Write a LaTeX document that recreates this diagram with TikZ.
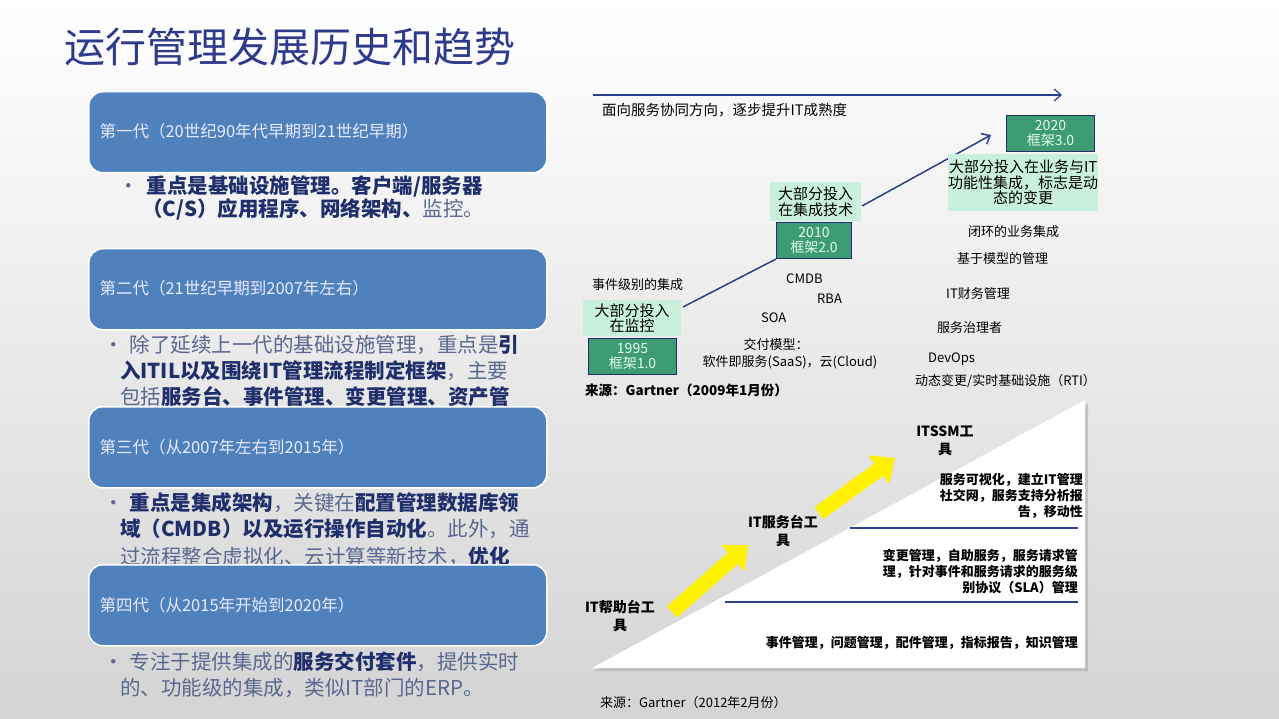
\documentclass[tikz,border=0pt]{standalone}
\usepackage{fontspec}
\setmainfont{Noto Sans CJK SC}
\usetikzlibrary{arrows.meta,shadows}
\definecolor{titleblue}{HTML}{2E3A8C}
\definecolor{genblue}{HTML}{4F81BD}
\definecolor{navy}{HTML}{1F2F6B}
\definecolor{soft}{HTML}{5A6790}
\definecolor{dgreen}{HTML}{3E9C74}
\definecolor{lgreen}{HTML}{C8F0DC}
\definecolor{linenavy}{HTML}{2B3F8C}
\newcommand{\bb}[1]{{\bfseries\color{navy}#1}}
\begin{document}
\begin{tikzpicture}[x=1pt,y=-1pt,
  gen/.style={draw=white,line width=1.5,fill=genblue,rounded corners=14,minimum width=458,minimum height=81,anchor=north west,inner sep=0},
  gentxt/.style={anchor=west,text=white!92!blue,font=\fontsize{16.5}{18}\selectfont},
  bl/.style={anchor=west,text=soft,font=\fontsize{20.5}{22}\selectfont,inner sep=0},
  yearbox/.style={draw=navy,line width=1,fill=dgreen,text=white!90!green,align=center,font=\fontsize{14}{15}\selectfont,inner sep=0,anchor=north west},
  lbox/.style={fill=lgreen,align=center,font=\fontsize{15}{15.5}\selectfont,inner sep=0,anchor=north west},
  sm/.style={font=\fontsize{13}{14}\selectfont,inner sep=0},
  bk/.style={font=\fontsize{13}{16}\selectfont\bfseries,inner sep=0},
  yarr/.style={line width=15,yellow,-{Triangle[width=34,length=20]}}]
\useasboundingbox (0,0) rectangle (1279,719);
\shade[top color=white,bottom color=black!17] (0,0) rectangle (1279,719);
\node[anchor=west,text=titleblue,font=\fontsize{41}{44}\selectfont,inner sep=0] (title) at (64,47) {运行管理发展历史和趋势};
% left column
\node[bl] (b1a) at (118,186) {•\hspace{8pt}\bb{重点是基础设施管理。客户端/服务器}};
\node[bl] (b1b) at (142,209) {\bb{（C/S）应用程序、网络架构、}监控。};
\node[bl] (b2a) at (103,345) {•\hspace{6pt}除了延续上一代的基础设施管理，重点是\bb{引}};
\node[bl] (b2b) at (120,371) {\bb{入ITIL以及围绕IT管理流程制定框架}，主要};
\node[bl] (b2c) at (120,397) {包括\bb{服务台、事件管理、变更管理、资产管}};
\node[bl] (b3a) at (103,503) {•\hspace{6pt}\bb{重点是集成架构}，关键在\bb{配置管理数据库领}};
\node[bl] (b3b) at (120,529) {\bb{域（CMDB）以及运行操作自动化}。此外，通};
\node[bl] (b3c) at (120,557) {过流程整合虚拟化、云计算等新技术，\bb{优化}};
\node[bl] (b4a) at (103,662) {•\hspace{6pt}专注于提供集成的\bb{服务交付套件}，提供实时};
\node[bl] (b4b) at (120,688) {的、功能级的集成，类似IT部门的ERP。};
\node[gen] (g1) at (88,91) {};
\node[gentxt] at (96,131) {第一代（20世纪90年代早期到21世纪早期）};
\node[gen] (g2) at (88,248) {};
\node[gentxt] at (96,288) {第二代（21世纪早期到2007年左右）};
\node[gen] (g3) at (88,406) {};
\node[gentxt] at (96,447) {第三代（从2007年左右到2015年）};
\node[gen] (g4) at (88,564) {};
\node[gentxt] at (96,605) {第四代（从2015年开始到2020年）};
% top right
\coordinate (ta) at (593,95);
\coordinate (tb) at (1062,95);
\draw[linenavy,line width=1.2,-{Straight Barb[length=7,width=12]}] (ta) -- (tb);
\node[anchor=west,font=\fontsize{14.5}{15}\selectfont,inner sep=0] (dir) at (602,110) {面向服务协同方向，逐步提升IT成熟度};
\node[yearbox,minimum width=88,minimum height=36] (y1) at (588,338) {1995\\框架1.0};
\node[yearbox,minimum width=75,minimum height=36] (y2) at (776,222) {2010\\框架2.0};
\node[yearbox,minimum width=88,minimum height=36] (y3) at (1006,115) {2020\\框架3.0};
\coordinate (arrEnd) at (991,135);
\draw[linenavy,line width=1.5] (683,307) -- (y2.south west);
\draw[linenavy,line width=1.5,-{Straight Barb[length=7,width=12]}] (862,206) -- (arrEnd);
\node[lbox,minimum width=98,minimum height=36] (l1) at (583,300) {大部分投入\\在监控};
\node[lbox,minimum width=91,minimum height=39] (l2) at (770,182) {大部分投入\\在集成技术};
\node[lbox,minimum width=146,minimum height=57] (l3) at (948,154) {大部分投入在业务与IT\\功能性集成，标志是动\\态的变更};
\node[sm,anchor=west] (e1) at (592,285) {事件级别的集成};
\node[sm,anchor=west] (t1) at (786,279) {CMDB};
\node[sm,anchor=west] (t2) at (817,299) {RBA};
\node[sm,anchor=west] (t3) at (761,318) {SOA};
\node[sm] (t4) at (776,345) {交付模型：};
\node[sm] (t5) at (790,362) {软件即服务(SaaS)，云(Cloud)};
\node[sm,anchor=west] (r1) at (968,232) {闭环的业务集成};
\node[sm,anchor=west] (r2) at (957,259) {基于模型的管理};
\node[sm,anchor=west] (r3) at (946,294) {IT财务管理};
\node[sm,anchor=west] (r4) at (937,328) {服务治理者};
\node[sm,anchor=west] (r5) at (928,359) {DevOps};
\node[sm,anchor=west] (r6) at (915,381) {动态变更/实时基础设施（RTI）};
\node[sm,anchor=west,font=\fontsize{13.5}{14}\selectfont\bfseries] (src1) at (585,390) {来源：Gartner（2009年1月份）};
% bottom triangle
\fill[black!35,opacity=0.5] (594,671) -- (1088,403) -- (1088,671) -- cycle;
\fill[white] (592,668) -- (1085,400) -- (1085,668) -- cycle;
\coordinate (la) at (850,528); \coordinate (lb) at (1078,528);
\coordinate (lc) at (725,602); \coordinate (ld) at (1078,602);
\draw[linenavy,line width=2] (la) -- (lb);
\draw[linenavy,line width=2] (lc) -- (ld);
\coordinate (a1s) at (672,612); \coordinate (a1e) at (748,545);
\coordinate (a2s) at (819,513); \coordinate (a2e) at (895,458);
\draw[yarr] (a1s) -- (a1e);
\draw[yarr] (a2s) -- (a2e);
\node[bk,align=center,font=\fontsize{14}{18}\selectfont\bfseries] (k1) at (620,616) {IT帮助台工\\具};
\node[bk,align=center,font=\fontsize{14}{18}\selectfont\bfseries] (k2) at (783,531) {IT服务台工\\具};
\node[bk,align=center,font=\fontsize{14}{18}\selectfont\bfseries] (k3) at (945,441) {ITSSM工\\具};
\node[bk,align=right,anchor=east] (k4) at (1083,496) {服务可视化，建立IT管理\\社交网，服务支持分析报\\告，移动性};
\node[bk,align=right,anchor=east] (k5) at (1078,572) {变更管理，自助服务，服务请求管\\理，针对事件和服务请求的服务级\\别协议（SLA）管理};
\node[bk,anchor=east] (k6) at (1078,643) {事件管理，问题管理，配件管理，指标报告，知识管理};
\node[sm,anchor=west,font=\fontsize{13}{14}\selectfont] (src2) at (600,703) {来源：Gartner（2012年2月份）};
\end{tikzpicture}
\end{document}
